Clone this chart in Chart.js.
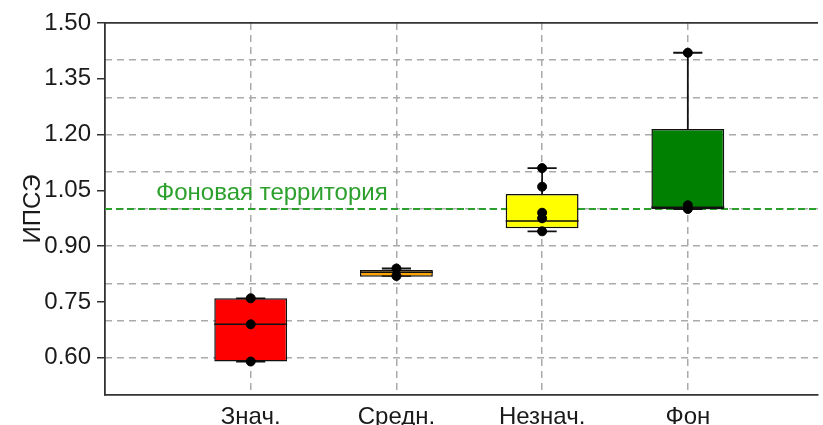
<!DOCTYPE html>
<html>
<head>
<meta charset="utf-8">
<script src="https://cdn.jsdelivr.net/npm/chart.js@4.4.1/dist/chart.umd.min.js"></script>
<style>
  html, body { margin: 0; padding: 0; background: #fff; overflow: hidden; }
</style>
</head>
<body>
<canvas id="myChart" width="823" height="432"></canvas>
<script>
// data
const categories = ['Знач.', 'Средн.', 'Незнач.', 'Фон'];
const positions = [1, 2, 3, 4];
const boxMin = [0.59, 0.82, 0.94, 1.00];
const boxQ1 = [0.59, 0.818, 0.948, 1.00];
const boxMedian = [0.69, 0.83, 0.968, 1.005];
const boxQ3 = [0.76, 0.836, 1.04, 1.215];
const boxMax = [0.76, 0.84, 1.11, 1.42];
const samples = [
    [0.76, 0.69, 0.59],
    [0.84, 0.82],
    [1.11, 1.06, 0.99, 0.975, 0.94],
    [1.42, 1.01, 1.00]
];
const boxColors = ['#ff0000', '#ffa500', '#ffff00', '#008000'];
const yTickLabels = [0.60, 0.75, 0.90, 1.05, 1.20, 1.35, 1.50];
const yGridValues = [0.6, 0.7, 0.8, 0.9, 1.0, 1.1, 1.2, 1.3, 1.4];
const bgLevel = 1.0;
const bgLabel = 'Фоновая территория';
const bgLabelX = 0.35;

const BOX_W = 0.5;
const CAP_W = 0.2;
const X_MAX = 4.89;
const FONT = '"Liberation Sans", Arial, sans-serif';

Chart.defaults.font.family = FONT;
Chart.defaults.font.size = 24;
Chart.defaults.color = '#1a1a1a';

// median segments, gaps between boxes
const medianData = [];
positions.forEach(function (p, i) {
    medianData.push({ x: p - BOX_W / 2, y: boxMedian[i] });
    medianData.push({ x: p + BOX_W / 2, y: boxMedian[i] });
    medianData.push({ x: p, y: null });
});

// whiskers + caps
const whiskerData = [];
positions.forEach(function (p, i) {
    whiskerData.push({ x: p, y: boxQ3[i] }, { x: p, y: boxMax[i] }, { x: p, y: null });
    whiskerData.push({ x: p, y: boxQ1[i] }, { x: p, y: boxMin[i] }, { x: p, y: null });
    whiskerData.push({ x: p - CAP_W / 2, y: boxMax[i] }, { x: p + CAP_W / 2, y: boxMax[i] }, { x: p, y: null });
    whiskerData.push({ x: p - CAP_W / 2, y: boxMin[i] }, { x: p + CAP_W / 2, y: boxMin[i] }, { x: p, y: null });
});

const pointData = [];
samples.forEach(function (arr, i) {
    arr.forEach(function (v) { pointData.push({ x: positions[i], y: v }); });
});

const bgLabelPlugin = {
    id: 'bgLabel',
    afterDatasetsDraw(chart) {
        const { ctx, scales: { x, y } } = chart;
        ctx.save();
        ctx.font = '24px ' + FONT;
        ctx.fillStyle = '#2ca02c';
        ctx.textBaseline = 'alphabetic';
        ctx.fillText(bgLabel, x.getPixelForValue(bgLabelX), y.getPixelForValue(bgLevel) - 9);
        ctx.restore();
    }
};

const config = {
    type: 'bar',
    data: {
        datasets: [
            {
                type: 'scatter',
                data: pointData,
                backgroundColor: '#000',
                borderColor: '#000',
                pointRadius: 4.5,
                order: 0
            },
            {
                type: 'line',
                data: medianData,
                borderColor: '#111',
                borderWidth: 1.5,
                pointRadius: 0,
                spanGaps: false,
                order: 1
            },
            {
                type: 'line',
                data: whiskerData,
                borderColor: '#111',
                borderWidth: 1.8,
                pointRadius: 0,
                spanGaps: false,
                order: 3
            },
            {
                type: 'bar',
                data: positions.map(function (p, i) { return { x: p, y: [boxQ1[i], boxQ3[i]] }; }),
                backgroundColor: boxColors,
                borderColor: '#111',
                borderWidth: 1.5,
                borderSkipped: false,
                categoryPercentage: 1,
                barPercentage: BOX_W,
                order: 2
            },
            {
                type: 'line',
                data: [{ x: 0, y: bgLevel }, { x: X_MAX, y: bgLevel }],
                borderColor: '#2ca02c',
                borderWidth: 2,
                borderDash: [7, 4],
                pointRadius: 0,
                order: 5
            }
        ]
    },
    options: {
        responsive: false,
        animation: false,
        layout: { padding: { top: 23, right: 0, left: 0, bottom: 0 } },
        plugins: {
            legend: { display: false },
            tooltip: { enabled: false }
        },
        scales: {
            x: {
                type: 'linear',
                position: 'bottom',
                min: 0,
                max: X_MAX,
                offset: false,
                afterBuildTicks: function (axis) {
                    axis.ticks = positions.map(function (p) { return { value: p }; });
                },
                afterFit: function (axis) { axis.height = 432 - 395; },
                ticks: {
                    padding: 8,
                    color: '#1a1a1a',
                    callback: function (value, index) { return categories[index]; }
                },
                grid: {
                    offset: false,
                    color: '#aaaaaa',
                    lineWidth: 1.5,
                    drawTicks: false
                },
                border: { color: '#333', width: 1.8, dash: [7, 5] }
            },
            x2: {
                type: 'linear',
                position: 'top',
                min: 0,
                max: X_MAX,
                afterFit: function (axis) { axis.height = 0; },
                ticks: { display: false },
                grid: { display: false, drawTicks: false },
                border: { color: '#333', width: 1.8 }
            },
            y: {
                type: 'linear',
                position: 'left',
                min: 0.5,
                max: 1.5,
                afterBuildTicks: function (axis) {
                    axis.ticks = yTickLabels.map(function (v) { return { value: v }; });
                },
                afterFit: function (axis) { axis.width = 105; },
                ticks: {
                    padding: 6,
                    color: '#1a1a1a',
                    callback: function (value) { return value.toFixed(2); }
                },
                title: { display: true, text: 'ИПСЭ', color: '#1a1a1a', padding: { top: 19, bottom: 0 } },
                grid: { drawOnChartArea: false, drawTicks: true, tickLength: 8, color: '#333', lineWidth: 1.5 },
                border: { color: '#333', width: 1.8 }
            },
            yGrid: {
                type: 'linear',
                position: 'right',
                min: 0.5,
                max: 1.5,
                afterBuildTicks: function (axis) {
                    axis.ticks = yGridValues.map(function (v) { return { value: v }; });
                },
                afterFit: function (axis) { axis.width = 0; },
                ticks: { display: false },
                grid: { color: '#aaaaaa', lineWidth: 1.5, drawTicks: false },
                border: { display: false, dash: [7, 5] }
            }
        }
    },
    plugins: [bgLabelPlugin]
};

const myChart = new Chart(document.getElementById('myChart'), config);
</script>
</body>
</html>
